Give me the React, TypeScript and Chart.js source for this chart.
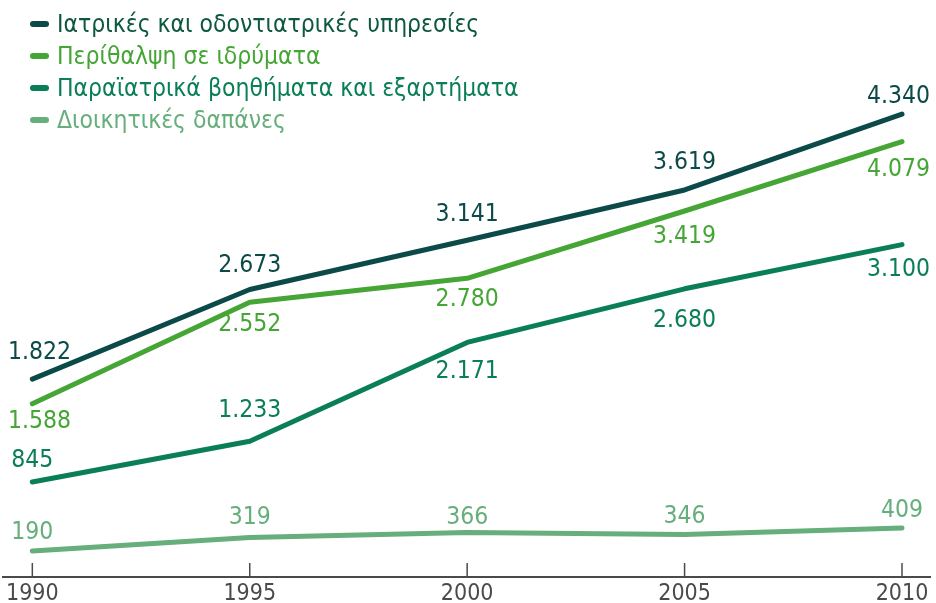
import React, { useEffect, useRef } from "react";
import { Chart, registerables } from "chart.js";

Chart.register(...registerables);

const years = ["1990", "1995", "2000", "2005", "2010"];
const seriesNames = [
  "Ιατρικές και οδοντιατρικές υπηρεσίες",
  "Περίθαλψη σε ιδρύματα",
  "Παραϊατρικά βοηθήματα και εξαρτήματα",
  "Διοικητικές δαπάνες",
];
const medical = [1822, 2673, 3141, 3619, 4340];
const institutions = [1588, 2552, 2780, 3419, 4079];
const paramedical = [845, 1233, 2171, 2680, 3100];
const administrative = [190, 319, 366, 346, 409];

const lineColors = ["#0b4a48", "#45a535", "#0a7e55", "#66ae7c"];
const legendTextColors = ["#0f5840", "#45a535", "#0a7e55", "#66ae7c"];
// label placement style: vertical offset of the label centre from the point (px, negative = above)
const labelOffsets = [
  [-30, -27, -29, -30, -20],
  [15, 19, 18, 23, 25],
  [-24, -34, 26, 29, 22],
  [-21, -23, -18, -21, -20],
];

const FONT = "'Liberation Sans Narrow', 'DejaVu Sans Condensed', Roboto, sans-serif";

const fmt = (v: number) => {
  const s = String(v);
  return s.length > 3 ? s.slice(0, s.length - 3) + "." + s.slice(-3) : s;
};

const labelPlugin = {
  id: "valueLabels",
  afterDatasetsDraw(chart: any) {
    const ctx = chart.ctx;
    ctx.save();
    ctx.font = `24.5px ${FONT}`;
    ctx.textAlign = "center";
    ctx.textBaseline = "middle";
    chart.data.datasets.forEach((ds: any, di: number) => {
      const meta = chart.getDatasetMeta(di);
      ctx.fillStyle = ds.borderColor;
      meta.data.forEach((pt: any, i: number) => {
        const text = fmt(ds.data[i]);
        const w = ctx.measureText(text).width;
        let x = pt.x;
        if (x - w / 2 < 8) x = 8 + w / 2;
        if (x + w / 2 > 930) x = 930 - w / 2;
        const y = pt.y + labelOffsets[di][i] + 3;
        ctx.fillText(text, x, y);
      });
    });
    ctx.restore();
  },
};

const axisPlugin = {
  id: "bottomAxis",
  afterDraw(chart: any) {
    const ctx = chart.ctx;
    const xs = chart.scales.x;
    const y = chart.chartArea.bottom;
    ctx.save();
    ctx.strokeStyle = "#4a4a4a";
    ctx.lineWidth = 2;
    ctx.beginPath();
    ctx.moveTo(2, y);
    ctx.lineTo(931, y);
    ctx.stroke();
    ctx.lineWidth = 1.5;
    years.forEach((_, i) => {
      const x = xs.getPixelForValue(i);
      ctx.beginPath();
      ctx.moveTo(x, y - 14);
      ctx.lineTo(x, y);
      ctx.stroke();
    });
    ctx.restore();
  },
};

const legendPlugin = {
  id: "customLegend",
  afterDraw(chart: any) {
    const ctx = chart.ctx;
    ctx.save();
    ctx.font = `24.5px ${FONT}`;
    ctx.textAlign = "left";
    ctx.textBaseline = "middle";
    chart.data.datasets.forEach((ds: any, di: number) => {
      const y = 24 + di * 32;
      ctx.strokeStyle = ds.borderColor;
      ctx.lineWidth = 6;
      ctx.lineCap = "round";
      ctx.beginPath();
      ctx.moveTo(33, y);
      ctx.lineTo(46, y);
      ctx.stroke();
      ctx.fillStyle = legendTextColors[di];
      ctx.fillText(ds.label, 57, y + 2);
    });
    ctx.restore();
  },
};

export default function App() {
  const ref = useRef<HTMLCanvasElement | null>(null);
  useEffect(() => {
    if (!ref.current) return;
    const values = [medical, institutions, paramedical, administrative];
    const chart = new Chart(ref.current, {
      type: "line",
      data: {
        labels: years,
        datasets: values.map((d, i) => ({
          label: seriesNames[i],
          data: d,
          borderColor: lineColors[i],
          backgroundColor: lineColors[i],
          borderWidth: 5,
          pointRadius: 0,
          borderCapStyle: "round",
          borderJoinStyle: "round",
          tension: 0,
          clip: false,
        })),
      },
      options: {
        animation: false,
        responsive: false,
        maintainAspectRatio: false,
        layout: { padding: { left: 30, right: 34, top: 0, bottom: 0 } },
        plugins: { legend: { display: false }, tooltip: { enabled: false } },
        scales: {
          x: {
            type: "category",
            offset: false,
            grid: { display: false, drawTicks: false },
            border: { display: false },
            ticks: {
              color: "#4a4a4a",
              font: { family: FONT, size: 23, lineHeight: 1 },
              padding: 6,
              maxRotation: 0,
              autoSkip: false,
            },
            afterFit: (scale: any) => {
              scale.height = 26;
            },
          },
          y: { display: false, min: -57, max: 5423 },
        },
      },
      plugins: [labelPlugin, axisPlugin, legendPlugin],
    } as any);
    return () => chart.destroy();
  }, []);
  return (
    <div style={{ position: "fixed", left: 0, top: 0, width: 936, height: 603, background: "#ffffff" }}>
      <canvas ref={ref} width={936} height={603} style={{ width: 936, height: 603 }} />
    </div>
  );
}
